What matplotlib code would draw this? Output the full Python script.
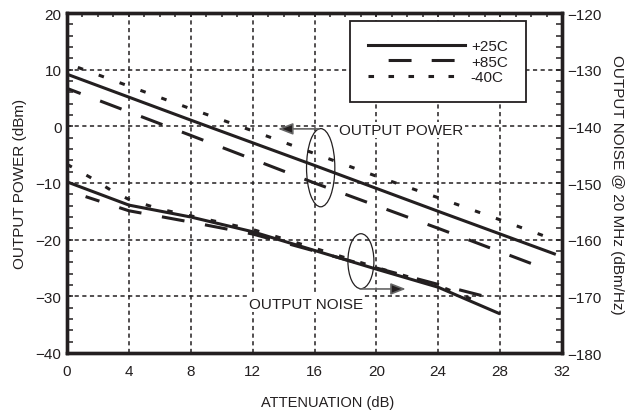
import matplotlib
matplotlib.use('Agg')
import matplotlib.pyplot as plt
from matplotlib.lines import Line2D
from matplotlib.patches import Ellipse
from matplotlib.ticker import MultipleLocator

plt.rcParams['font.family'] = ['Liberation Sans', 'DejaVu Sans']
plt.rcParams['lines.scale_dashes'] = False

INK = '#231f20'

# output power (dBm), left axis
pwr_x_25 = [0, 8, 16, 24, 31.6]
pwr_25 = [9.2, 1.1, -6.9, -15.0, -22.6]
pwr_x_85 = [0, 8, 16, 24, 30.2]
pwr_85 = [6.7, -1.6, -10.0, -18.0, -24.4]
pwr_x_m40 = [0.7, 4, 8, 12, 16, 20, 24, 28, 31.4]
pwr_m40 = [10.4, 7.1, 3.1, -0.8, -4.8, -8.8, -12.6, -16.5, -19.9]

# output noise @ 20 MHz (dBm/Hz), right axis
nse_x_25 = [0, 4, 8, 12, 16, 20, 24, 28]
nse_25 = [-149.8, -153.9, -156.0, -158.6, -161.9, -165.2, -168.4, -173.1]
nse_x_85 = [1.2, 4, 8, 12, 16, 20, 24, 27]
nse_85 = [-152.4, -154.9, -156.9, -159.0, -162.0, -165.0, -167.9, -170.0]
nse_x_m40 = [0, 1.5, 2.8, 4, 6, 8, 12, 16, 20, 24, 26.7]
nse_m40 = [-146.7, -149.0, -151.2, -152.9, -154.6, -155.8, -158.2, -161.5, -164.9, -168.1, -171.1]

temps = ['+25C', '+85C', '-40C']

# line styles (points, unscaled dashes)
LW = 2.2
SOLID = '-'
DASHED = (6, (16.5, 15))
DOTTED = (0, (4, 12))

fig = plt.figure(figsize=(6.26, 4.14), dpi=100)
ax = fig.add_axes([67 / 626, 60 / 414, 495 / 626, 340 / 414])
ax2 = ax.twinx()

ax.plot(pwr_x_25, pwr_25, color=INK, lw=LW, ls=SOLID, solid_capstyle='butt')
ax.plot(pwr_x_85, pwr_85, color=INK, lw=LW, ls=DASHED, dash_capstyle='butt')
ax.plot(pwr_x_m40, pwr_m40, color=INK, lw=LW, ls=DOTTED, dash_capstyle='butt')

ax2.plot(nse_x_25, nse_25, color=INK, lw=LW, ls=SOLID, solid_capstyle='butt')
ax2.plot(nse_x_85, nse_85, color=INK, lw=LW, ls=DASHED, dash_capstyle='butt')
ax2.plot(nse_x_m40, nse_m40, color=INK, lw=LW, ls=DOTTED, dash_capstyle='butt')

ax.set_xlim(0, 32)
ax.set_ylim(-40, 20)
ax2.set_ylim(-180, -120)

ax.xaxis.set_major_locator(MultipleLocator(4))
ax.xaxis.set_minor_locator(MultipleLocator(1))
ax.yaxis.set_major_locator(MultipleLocator(10))
ax.yaxis.set_minor_locator(MultipleLocator(2))
ax2.yaxis.set_major_locator(MultipleLocator(10))
ax2.yaxis.set_minor_locator(MultipleLocator(2))

ax.grid(True, which='major', color=INK, lw=1.1, ls=(0, (3, 2.5)))

ax.tick_params(axis='x', which='both', direction='in', top=True, bottom=False,
               length=3, width=1.1, pad=8, labelsize=11, labelcolor=INK, color=INK)
ax.tick_params(axis='y', which='both', direction='in', left=True, right=False,
               length=4, width=1.1, pad=4, labelsize=11, labelcolor=INK, color=INK)
ax2.tick_params(axis='y', which='both', direction='in', right=True,
                length=4, width=1.1, pad=4, labelsize=11, labelcolor=INK, color=INK)

for a in (ax, ax2):
    for sp in a.spines.values():
        sp.set_linewidth(2.4)
        sp.set_color(INK)

fig.text(20 / 626, 1 - 184 / 414, 'OUTPUT POWER (dBm)', rotation=90,
         ha='center', va='center', fontsize=11, color=INK)
fig.text(617 / 626, 1 - 185 / 414, 'OUTPUT NOISE @ 20 MHz (dBm/Hz)', rotation=270,
         ha='center', va='center', fontsize=11, color=INK)
fig.text(328 / 626, 1 - 403 / 414, 'ATTENUATION (dB)',
         ha='center', va='center', fontsize=10.5, color=INK)

# callouts
ax.add_patch(Ellipse((16.4, -7.3), 1.83, 13.8, fill=False, ec=INK, lw=0.9))
ax2.add_patch(Ellipse((19.0, -163.8), 1.68, 9.7, fill=False, ec=INK, lw=0.9))

arrow = dict(arrowstyle='-|>,head_length=0.9,head_width=0.35', fc=INK, ec='#666666',
             lw=1.2, shrinkA=0, shrinkB=0)
ax.annotate('', xy=(13.64, -0.45), xytext=(16.3, -0.45), arrowprops=arrow)
ax2.annotate('', xy=(21.9, -168.7), xytext=(18.95, -168.7), arrowprops=arrow)

ax.text(17.58, -0.64, 'OUTPUT POWER', ha='left', va='center', fontsize=11, color=INK,
        bbox=dict(fc='white', ec='none', pad=1))
ax2.text(19.13, -171.3, 'OUTPUT NOISE', ha='right', va='center', fontsize=11, color=INK,
         bbox=dict(fc='white', ec='none', pad=1))

handles = [Line2D([], [], color=INK, lw=LW, ls=SOLID),
           Line2D([], [], color=INK, lw=LW, ls=(16.5, (16.5, 14.5))),
           Line2D([], [], color=INK, lw=LW, ls=(0, (4, 10.4)))]
leg = ax2.legend(handles, temps, loc='upper left', bbox_to_anchor=(0.572, 0.976),
                 fancybox=False, framealpha=1, edgecolor=INK, fontsize=11,
                 handlelength=6.3, handletextpad=0.4, borderpad=1.2,
                 labelspacing=0.08, borderaxespad=0)
leg.get_frame().set_linewidth(1.3)
for t in leg.get_texts():
    t.set_color(INK)

fig.savefig('out.png', dpi=100)
